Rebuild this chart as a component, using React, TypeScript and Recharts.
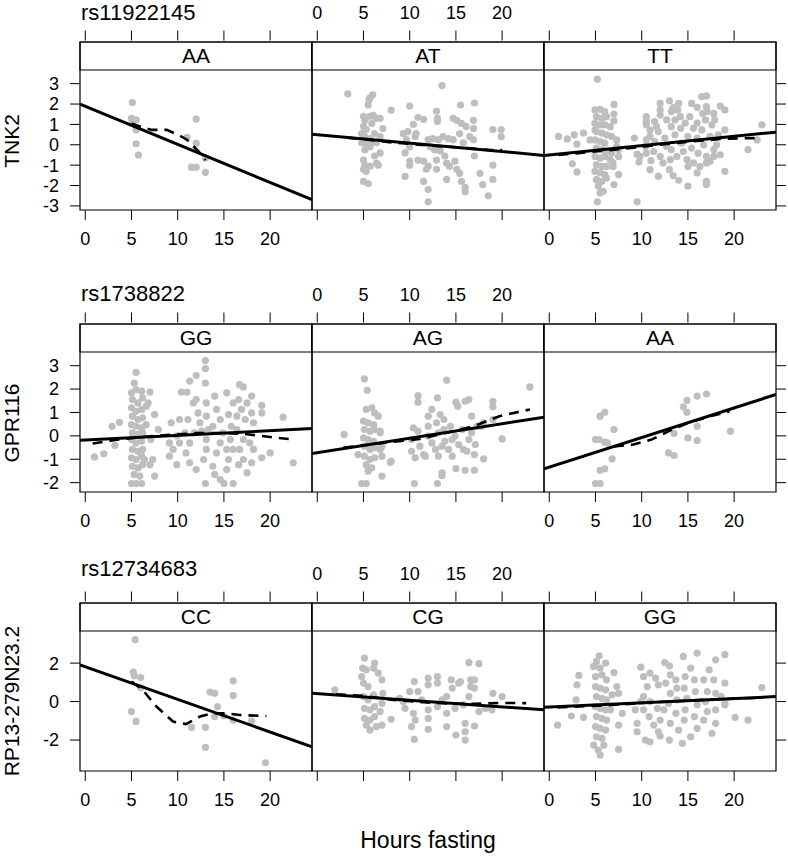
import { ReferenceArea, Scatter, ScatterChart, XAxis, YAxis } from "recharts";

type Pt = [number, number];

const hourTicks = [0, 5, 10, 15, 20];
const hourRange: Pt = [-0.57, 24.53];
const snps = ["rs11922145", "rs1738822", "rs12734683"];
const genes = ["TNK2", "GPR116", "RP13-279N23.2"];
const genotypes = [
  ["AA", "AT", "TT"],
  ["GG", "AG", "AA"],
  ["CC", "CG", "GG"],
];
const exprTicks = [
  [-3, -2, -1, 0, 1, 2, 3],
  [-2, -1, 0, 1, 2, 3],
  [-2, 0, 2],
];
const exprRange: Pt[] = [
  [-3.2, 3.67],
  [-2.4, 3.585],
  [-3.61, 3.67],
];

// TNK2 ~ rs11922145
const tnk2AA: Pt[] = [
  [5.1, 2.07], [5.0, 1.3], [5.5, 1.22], [5.1, 1.14], [5.5, 0.73], [5.5, 0.05], [5.75, -0.5],
  [12.0, 1.26], [11.0, 0.36], [12.0, 0.08], [11.5, -1.1], [12.0, -1.1], [13.0, -0.65], [13.0, -1.35],
];
const tnk2AAFit: Pt[] = [[-0.57, 1.99], [24.53, -2.69]];
const tnk2AALoess: Pt[] = [[5.0, 1.05], [6.2, 0.85], [7.2, 0.73], [8.8, 0.73], [10, 0.5], [11, 0.25], [12.3, -0.35], [13, -0.75]];

const tnk2AT: Pt[] = [
  [3.3, 2.5], [13.5, 2.9], [6.0, 2.45], [5.7, 2.3], [5.5, 1.95], [5.6, 2.2], [8.0, 1.7], [10.0, 1.9],
  [15.5, 1.95], [17.0, 2.05], [12.9, 1.65], [13.0, 1.3], [13.0, 1.15], [10.9, 1.35], [11.5, 1.25],
  [5.0, 1.4], [5.15, 1.2], [5.7, 1.4], [6.05, 1.45], [6.4, 1.3], [6.8, 1.3], [5.0, 0.9], [5.3, 0.75],
  [5.9, 1.05], [7.1, 0.8], [4.8, 0.55], [5.15, 0.4], [5.5, 0.25], [6.2, 0.55], [6.8, 0.4], [6.4, 0.1],
  [5.7, -0.1], [5.15, -0.25], [6.8, -0.4], [6.2, -0.55], [5.0, -0.75], [5.15, -1.0], [5.7, -1.05],
  [6.4, -0.9], [6.6, -1.0], [5.0, -1.2], [5.3, -1.3], [5.0, -1.8], [5.5, -1.9], [4.8, 0.1], [5.3, 0.0],
  [5.9, 0.1], [5.7, 0.3], [10.4, 1.0], [9.8, 0.65], [9.3, 0.55], [9.65, 0.25], [10.6, 0.4], [10.0, -0.1],
  [9.5, -0.4], [10.0, -0.8], [10.0, -1.0], [9.5, -1.55], [10.9, -0.75], [11.5, -0.8], [12.0, -1.05],
  [11.8, -1.2], [12.0, -2.2], [11.5, -1.8], [12.0, -2.8], [12.5, 0.3], [13.1, 0.25], [13.6, 0.4],
  [14.2, 0.3], [14.7, 0.25], [12.7, -0.25], [13.3, -0.3], [13.8, -0.55], [12.9, -0.75], [14.0, -0.9],
  [14.3, -1.05], [14.9, -0.8], [15.1, -1.2], [12.9, -1.2], [14.0, -1.7], [15.4, -1.4], [15.6, -1.8],
  [16.0, -2.1], [16.0, -2.3], [14.7, 1.3], [15.1, 1.2], [15.6, 1.05], [16.1, 0.9], [16.9, 1.2],
  [16.9, 0.8], [16.5, 0.4], [16.9, 0.25], [15.8, 0.1], [15.4, 0.55], [17.0, -0.55], [17.6, -1.4],
  [17.9, -1.95], [18.5, -2.5], [19.0, -1.7], [19.0, -1.0], [19.0, 0.75], [19.9, 0.75], [19.9, 0.4],
  [12.0, 0.25], [12.2, -0.1], [10.7, 0.55],
];
const tnk2ATFit: Pt[] = [[-0.57, 0.52], [24.53, -0.52]];
const tnk2ATLoess: Pt[] = [[3.3, 0.35], [8, 0.12], [12, -0.03], [15, -0.12], [18.5, -0.25], [20, -0.26]];

const tnk2TT: Pt[] = [
  [1.0, 0.41], [1.95, 0.29], [2.7, 0.49], [3.0, 0.03], [3.7, 0.57], [2.5, -0.93], [3.0, -1.33],
  [5.2, 3.22], [5.2, -2.8], [9.5, -2.8], [7.0, 1.98], [7.0, 1.51], [7.0, 1.17], [7.5, -1.46], [7.0, -1.95],
  [9.2, 0.33], [9.5, -0.46], [9.7, -0.85], [10.5, 1.38], [10.5, 1.17], [10.9, 0.73], [10.5, -0.41],
  [11.0, -0.78], [10.9, -1.22], [11.8, -1.54], [12.0, 2.03], [13.0, 2.16], [12.0, 1.71], [12.0, 1.46],
  [13.4, 1.82], [13.9, 1.71], [13.0, -1.22], [13.4, -1.51], [14.0, -1.74], [15.0, -2.03], [15.4, 2.03],
  [16.0, 1.84], [16.5, 2.36], [17.0, 2.4], [16.6, 1.54], [17.1, 1.63], [18.5, 1.9], [19.0, 1.71],
  [17.0, -1.79], [17.0, -1.95], [19.0, -1.3], [21.5, -0.24], [22.5, 0.24], [23.0, 0.98],
  [15.0, -1.06], [16.0, -1.38], [16.3, -1.06], [17.0, -0.89], [17.8, -0.57], [17.4, -0.81],
  [4.95, 1.71], [5.5, 1.74], [6.0, 1.63], [5.1, 1.38], [5.7, 1.3], [6.2, 1.38], [4.95, 1.06], [5.5, 0.98],
  [6.0, 0.98], [6.6, 0.89], [5.1, 0.65], [5.7, 0.57], [6.2, 0.49], [6.75, 0.41], [7.3, 0.24], [4.95, 0.24],
  [5.5, 0.16], [6.0, 0.08], [4.4, 0.24], [5.1, -0.16], [5.7, -0.24], [6.2, -0.33], [6.75, -0.41],
  [7.5, -0.24], [4.95, -0.57], [5.5, -0.65], [6.0, -0.57], [6.6, -0.73], [5.1, -0.98], [5.7, -1.06],
  [6.2, -1.06], [6.9, -1.06], [4.95, -1.3], [5.5, -1.38], [6.0, -1.46], [5.1, -1.71], [5.7, -1.79],
  [6.2, -1.63], [5.3, -2.03], [5.85, -2.28], [5.5, -2.36], [4.95, 0.73], [7.3, -0.08], [7.5, -0.57],
  [6.9, -0.89], [10.5, 0.98], [10.9, 0.41], [11.4, 0.16], [11.4, 1.14], [11.8, 0.65], [12.5, 0.33],
  [12.7, 1.22], [12.7, -0.08], [13.2, 0.89], [13.2, -0.24], [13.6, 1.22], [13.6, 0.49], [13.8, -0.57],
  [14.2, 1.38], [14.2, 0.81], [14.3, 0.08], [14.5, -0.33], [14.7, 1.06], [14.9, -0.73], [15.0, 0.41],
  [15.2, 1.38], [15.4, -0.16], [15.6, 0.81], [16.0, 1.06], [16.0, 0.33], [16.1, -0.41], [16.5, 0.73],
  [16.7, 0.0], [16.9, 1.22], [17.0, -0.57], [17.4, 0.41], [17.6, 0.98], [17.8, -0.24], [17.9, 1.22],
  [18.1, 0.0], [18.5, -0.49], [10.4, -0.08], [10.5, 0.24], [9.8, -0.57], [11.3, -0.33], [12.0, -0.57],
  [12.3, -0.89], [13.1, -0.73], [13.2, 1.63], [11.6, 0.89], [14.0, 2.03], [15.6, -0.89], [17.0, 1.87],
  [17.8, 1.54], [19.0, 0.73], [18.3, 0.49],
];
const tnk2TTFit: Pt[] = [[-0.57, -0.52], [24.53, 0.62]];
const tnk2TTLoess: Pt[] = [[1, -0.5], [5, -0.33], [10, -0.1], [15, 0.15], [19, 0.3], [22.5, 0.33]];

// GPR116 ~ rs1738822
const gpr116GG: Pt[] = [
  [1.0, -0.9], [2.0, -0.77], [2.9, 0.41], [3.7, 0.58], [3.2, -0.41], [5.5, 2.72], [13.0, 3.22], [13.0, 2.88],
  [12.0, 2.58], [13.0, 2.26], [11.3, 2.34], [10.4, 1.87], [11.0, 1.87], [16.7, 2.19], [17.1, 2.09],
  [7.0, 1.87], [6.8, 1.41], [7.5, 0.91], [7.9, 0.27], [7.1, -0.16], [7.3, -1.01], [7.5, -1.72], [7.0, -1.23],
  [9.3, 0.56], [9.1, -0.87], [9.9, -1.23], [9.5, -0.58], [21.4, 0.8], [22.5, -1.15], [20.0, -0.73],
  [19.1, -0.94], [19.1, 1.3], [19.1, 0.98], [18.0, 1.7], [13.0, -2.04], [15.0, -2.04], [16.0, -2.04],
  [5.0, -2.04], [5.5, -2.04], [6.1, -2.04], [11.7, 1.41], [12.0, 1.55], [12.2, 0.98], [12.4, 0.56],
  [11.8, 0.13], [11.3, -0.3], [10.9, -0.73], [11.3, -1.15], [12.0, -1.44], [12.8, -1.01], [13.1, -0.58],
  [13.1, -0.16], [13.3, 0.27], [13.1, 0.84], [13.1, 1.41], [14.0, 1.7], [14.2, 1.13], [14.6, 0.7],
  [13.8, 0.41], [14.9, 0.13], [14.6, -0.3], [14.2, -0.73], [13.8, -1.3], [14.0, -1.65], [14.6, -1.87],
  [15.3, -1.44], [15.5, -1.01], [15.3, -0.58], [15.7, -0.16], [15.8, 0.41], [15.5, 0.91], [16.0, 1.41],
  [15.3, 1.84], [16.6, 1.55], [16.9, 1.13], [17.3, 0.7], [16.4, 0.27], [17.1, -0.16], [16.7, -0.58],
  [17.1, -1.01], [16.6, -1.23], [17.5, -1.58], [18.0, -1.15], [18.2, -0.58], [17.8, -0.3], [18.2, 0.56],
  [18.0, 0.98], [17.5, 1.41], [16.4, 0.84], [10.2, 0.7], [9.9, 0.0], [10.8, 0.13], [9.1, -0.3],
  [11.1, 0.7], [12.6, 0.2], [10.2, -0.3], [16.0, -0.58], [5.0, 1.84], [5.5, 1.98], [6.1, 1.91],
  [5.1, 1.55], [5.7, 1.41], [6.2, 1.62], [5.0, 1.2], [5.5, 1.05], [6.1, 1.13], [5.1, 0.84], [5.7, 0.7],
  [6.2, 0.77], [5.0, 0.48], [5.5, 0.41], [6.1, 0.34], [5.1, 0.13], [5.7, 0.06], [6.2, 0.13], [5.0, -0.16],
  [5.5, -0.3], [6.1, -0.23], [5.1, -0.58], [5.7, -0.66], [6.2, -0.58], [5.0, -0.94], [5.5, -1.01],
  [6.1, -0.87], [5.1, -1.3], [5.7, -1.37], [6.2, -1.23], [5.3, -1.65], [5.9, -1.72], [6.4, -1.01],
  [6.6, 0.48], [6.6, 1.27], [5.3, 2.26],
];
const gpr116GGFit: Pt[] = [[-0.57, -0.19], [24.53, 0.31]];
const gpr116GGLoess: Pt[] = [[0.8, -0.33], [3.3, -0.17], [7, -0.02], [12, 0.12], [15, 0.12], [17.5, 0.07], [20, -0.05], [22.7, -0.16]];

const gpr116AG: Pt[] = [
  [5.1, 2.44], [5.4, 1.95], [14.0, 2.38], [23.0, 2.09], [2.9, 0.06], [10.9, 1.72], [10.9, 1.44], [13.0, 1.62],
  [15.0, 1.44], [15.2, 1.27], [16.0, 1.48], [16.4, 1.55], [19.0, 1.48], [19.0, 1.24], [12.0, 0.84],
  [12.4, 1.13], [13.3, 0.91], [13.7, 0.7], [16.7, 0.84], [19.0, 0.7], [20.0, -0.13], [18.0, 0.56],
  [17.8, 0.41], [10.2, -0.66], [10.6, -0.94], [11.5, -0.8], [10.5, -2.04], [13.0, -2.04], [13.5, -1.58],
  [13.5, -1.7], [15.0, -1.4], [16.0, -1.47], [17.0, -1.47], [18.0, -0.98], [16.2, -0.66], [17.0, -0.8],
  [7.0, -1.72], [7.9, -1.13], [6.8, -0.58], [7.0, -0.87], [4.8, -2.04], [5.3, -2.04], [5.3, 1.13],
  [5.9, 1.2], [6.2, 0.98], [6.6, 0.84], [5.0, 0.63], [5.5, 0.56], [6.1, 0.48], [5.1, 0.27], [5.7, 0.2],
  [6.2, 0.27], [6.8, 0.13], [5.0, -0.09], [5.5, -0.16], [6.1, -0.23], [4.4, -0.8], [5.1, -0.44],
  [5.7, -0.58], [6.2, -0.51], [7.0, -0.44], [5.1, -0.87], [5.7, -1.01], [6.2, -0.94], [5.3, -1.23],
  [5.9, -1.37], [5.5, -1.51], [6.8, 0.2], [8.0, -1.08], [10.4, 0.34], [10.9, 0.2], [10.2, -0.16],
  [11.1, -0.44], [12.0, -0.01], [12.4, -0.3], [12.9, 0.56], [13.1, 0.13], [12.8, -0.58], [13.1, -0.87],
  [13.7, 0.27], [13.8, -0.23], [14.2, -0.58], [14.6, -0.87], [14.4, 0.41], [14.9, -0.01], [15.3, -0.37],
  [15.7, 0.27], [15.8, -0.58], [16.4, -0.16], [16.7, 0.13], [17.1, -0.37], [17.3, 0.41], [12.0, 0.41],
  [13.5, -0.44], [11.7, -0.87], [14.6, -0.16],
];
const gpr116AGFit: Pt[] = [[-0.57, -0.75], [24.53, 0.8]];
const gpr116AGLoess: Pt[] = [[2.8, -0.51], [7.1, -0.3], [11.1, -0.13], [14, 0.13], [16.9, 0.41], [19.7, 0.84], [23, 1.13]];

const gpr116AA: Pt[] = [
  [5.5, 0.84], [6.0, 1.01], [7.0, 0.27], [5.0, -0.16], [5.4, -0.16], [6.0, -0.27], [6.3, -0.3], [6.8, -0.98],
  [5.5, -1.47], [6.0, -1.41], [5.0, -2.04], [5.5, -2.04], [12.9, -0.73], [13.5, -0.84], [13.5, 0.1],
  [14.5, 1.24], [14.9, 1.52], [14.9, 1.01], [16.0, 1.7], [17.0, 1.79], [16.0, 0.41], [15.0, -0.09],
  [16.0, -0.2], [19.6, 0.2],
];
const gpr116AAFit: Pt[] = [[-0.57, -1.41], [24.53, 1.77]];
const gpr116AALoess: Pt[] = [[7.0, -0.45], [9, -0.38], [11, -0.17], [13.3, 0.27], [15, 0.55], [17.5, 0.85], [19.5, 1.05]];

// RP13-279N23.2 ~ rs12734683
const rp13CC: Pt[] = [
  [5.4, 3.22], [5.2, 1.53], [5.3, 1.34], [6.0, 1.25], [6.0, 0.73], [5.0, -0.52], [5.5, -1.03], [11.5, -1.34],
  [13.0, -1.34], [13.0, -2.38], [13.5, 0.49], [14.0, 0.43], [14.3, -0.26], [14.0, -0.78], [16.0, 1.08],
  [16.0, 0.31], [15.0, -0.75], [16.0, -0.96], [18.0, -1.01], [19.5, -3.18],
];
const rp13CCFit: Pt[] = [[-0.57, 1.91], [24.53, -2.35]];
const rp13CCLoess: Pt[] = [[5.0, 1.04], [6.2, 0.61], [7.7, -0.26], [9.5, -1.04], [10.9, -1.17], [12.4, -0.78], [13.8, -0.61], [15.3, -0.61], [16.7, -0.7], [19.6, -0.75]];

const rp13CG: Pt[] = [
  [1.9, 0.61], [5.1, 2.26], [6.2, 2.0], [4.9, 1.74], [5.3, 1.65], [6.1, 1.74], [6.6, 1.48], [7.0, 1.13],
  [7.1, 0.43], [5.7, -1.48], [6.4, -1.3], [7.0, -1.22], [8.0, -0.92], [5.0, 0.96], [5.5, 0.78], [5.0, 0.26],
  [5.5, 0.09], [6.1, 0.35], [5.1, -0.35], [5.7, -0.43], [6.2, -0.26], [6.8, -0.52], [5.1, -0.87],
  [5.7, -0.96], [6.2, -0.78], [5.3, -1.22], [7.0, -0.09], [4.8, 1.3], [9.3, 0.0], [10.5, 1.04],
  [10.0, 0.52], [10.9, 0.52], [10.4, -0.61], [10.6, -0.96], [10.2, -1.3], [10.5, -1.97], [12.0, 1.22],
  [12.0, 0.87], [12.0, -0.43], [12.0, -0.87], [12.0, -1.44], [13.0, 1.3], [13.0, 0.96], [13.0, -0.26],
  [14.0, -1.3], [14.0, -0.61], [14.0, 0.26], [14.5, 1.13], [14.6, 0.7], [15.3, 0.96], [15.5, 1.04],
  [15.0, -1.74], [16.0, -1.13], [16.0, -1.57], [16.0, -2.0], [16.4, 2.03], [17.5, 1.97], [16.6, 1.13],
  [17.0, 1.13], [16.6, 0.78], [17.0, 0.7], [16.4, 0.26], [17.0, -1.27], [19.0, 0.43], [20.0, 0.26],
  [18.9, -0.43], [17.5, -0.52], [18.2, -0.35], [14.9, -0.35], [15.8, -0.17], [13.5, 0.09], [11.3, 0.09],
  [8.9, 0.17], [9.5, -0.35],
];
const rp13CGFit: Pt[] = [[-0.57, 0.43], [24.53, -0.43]];
const rp13CGLoess: Pt[] = [[2.0, 0.38], [5, 0.3], [8, 0.1], [11, -0.02], [14, -0.1], [17, -0.12], [20, -0.07], [22.6, -0.08]];

const rp13GG: Pt[] = [
  [0.9, -1.22], [2.4, -0.75], [3.7, -0.82], [2.9, 0.09], [3.0, 0.87], [3.2, 1.36], [5.4, 2.38], [5.1, 2.09],
  [5.5, -2.78], [5.3, -2.52], [7.5, -2.49], [7.0, 1.51], [7.3, 0.78], [7.5, 0.43], [7.9, -0.61],
  [7.5, -1.22], [9.9, 1.79], [9.5, -1.13], [9.5, -1.57], [10.4, -2.0], [10.9, -2.09], [12.0, -1.79],
  [13.0, -2.0], [14.4, -2.17], [12.5, 2.03], [13.0, 1.86], [14.5, 2.35], [16.0, 2.52], [18.0, 2.17],
  [19.0, 2.44], [20.1, -0.82], [21.5, -0.96], [23.0, 0.73], [17.6, -1.65], [19.0, -0.17], [19.0, 0.96],
  [4.8, 1.83], [5.5, 1.74], [6.1, 2.0], [5.0, 1.3], [5.7, 1.39], [6.2, 1.13], [5.0, 0.78], [5.5, 0.7],
  [6.1, 0.61], [5.1, 0.26], [5.7, 0.17], [6.2, 0.09], [5.0, -0.26], [5.5, -0.35], [6.1, -0.43],
  [5.1, -0.78], [5.7, -0.87], [6.2, -0.96], [5.0, -1.3], [5.5, -1.39], [6.1, -1.48], [5.1, -1.83],
  [5.7, -1.91], [4.8, -2.26], [5.9, -2.26], [6.6, -0.43], [6.8, 0.35], [10.2, 1.3], [10.9, 1.48],
  [11.5, 1.22], [11.8, 0.87], [10.6, 0.78], [10.2, 0.26], [10.9, 0.0], [11.7, -0.35], [10.2, -0.43],
  [10.8, -0.78], [11.3, -1.22], [12.0, -0.96], [12.4, -0.43], [12.9, -0.09], [13.1, 0.43], [12.6, 0.96],
  [13.1, 1.39], [13.7, 1.13], [13.8, 0.7], [13.8, 0.09], [13.7, -0.61], [13.1, -1.13], [14.0, -1.48],
  [14.6, -0.96], [14.7, -0.43], [14.9, 0.17], [14.6, 0.7], [14.7, 1.3], [15.3, 1.74], [15.7, 1.13],
  [15.8, 0.52], [16.0, -0.17], [15.7, -0.78], [16.0, -1.39], [16.7, -0.96], [17.1, -0.52], [16.9, 0.0],
  [17.1, 0.52], [16.7, 1.13], [17.3, 1.65], [17.8, 1.13], [18.0, 0.43], [18.0, -0.43], [18.0, -1.13],
  [18.6, 0.26], [19.0, -0.09], [9.3, -0.43], [9.9, 0.0], [11.8, -1.57], [15.3, -1.83],
];
const rp13GGFit: Pt[] = [[-0.57, -0.3], [24.53, 0.26]];
const rp13GGLoess: Pt[] = [[0.9, -0.3], [6, -0.2], [12, -0.02], [18, 0.12], [23, 0.2]];

const panelData = [
  [
    { pts: tnk2AA, fit: tnk2AAFit, loess: tnk2AALoess },
    { pts: tnk2AT, fit: tnk2ATFit, loess: tnk2ATLoess },
    { pts: tnk2TT, fit: tnk2TTFit, loess: tnk2TTLoess },
  ],
  [
    { pts: gpr116GG, fit: gpr116GGFit, loess: gpr116GGLoess },
    { pts: gpr116AG, fit: gpr116AGFit, loess: gpr116AGLoess },
    { pts: gpr116AA, fit: gpr116AAFit, loess: gpr116AALoess },
  ],
  [
    { pts: rp13CC, fit: rp13CCFit, loess: rp13CCLoess },
    { pts: rp13CG, fit: rp13CGFit, loess: rp13CGLoess },
    { pts: rp13GG, fit: rp13GGFit, loess: rp13GGLoess },
  ],
];

// layout (page pixels)
const COL_X = [80, 312, 544];
const ROW_Y = [42, 324, 603];
const PANEL_W = 232;
const STRIP_H = 28;
const PLOT_H = 140;
const TOP_H = 40;
const BOTTOM_H = 48;
const Y_LABEL_W = 77;
const PAD = 3;
const FONT = "'Liberation Sans', Arial, Helvetica, sans-serif";

const toXY = (a: Pt[]) => a.map(([x, y]) => ({ x, y }));
const blank = () => "";
const dot = (p: any) => <circle cx={p.cx} cy={p.cy} r={3.6} fill="#bebebe" />;
const noDot = () => <g />;

const Panel = ({ row, col }: { row: number; col: number }) => {
  const { pts, fit, loess } = panelData[row][col];
  const [lo, hi] = exprRange[row];
  const top = hi + ((hi - lo) * STRIP_H) / PLOT_H;
  const leftW = col === 0 ? Y_LABEL_W : 0;
  const rightW = col === 2 ? 10 : 0;
  const rightPad = col === 2 ? 1 : PAD;
  const width = PAD + leftW + PANEL_W + rightW + rightPad;
  const height = TOP_H + STRIP_H + PLOT_H + BOTTOM_H;
  const tickFont = { fill: "#000", fontSize: 18 };

  return (
    <div style={{ position: "absolute", left: COL_X[col] - PAD - leftW, top: ROW_Y[row] - TOP_H }}>
      <ScatterChart width={width} height={height} margin={{ top: 0, bottom: 0, left: PAD, right: rightPad }}>
        <XAxis
          xAxisId="b"
          type="number"
          dataKey="x"
          domain={hourRange}
          allowDataOverflow
          ticks={hourTicks}
          interval={0}
          orientation="bottom"
          height={BOTTOM_H}
          axisLine={false}
          tickSize={12.5}
          tickLine={{ stroke: "#000", strokeDasharray: "0 2.5 10 40" }}
          tickMargin={10}
          tick={tickFont}
          tickFormatter={col === 1 ? blank : undefined}
        />
        <XAxis
          xAxisId="t"
          type="number"
          dataKey="x"
          domain={hourRange}
          allowDataOverflow
          ticks={hourTicks}
          interval={0}
          orientation="top"
          height={TOP_H}
          axisLine={false}
          tickSize={11.5}
          tickLine={{ stroke: "#000", strokeDasharray: "10 40" }}
          tickMargin={12}
          tick={tickFont}
          tickFormatter={col === 1 ? undefined : blank}
        />
        <YAxis
          yAxisId="v"
          type="number"
          dataKey="y"
          domain={[lo, top]}
          allowDataOverflow
          ticks={exprTicks[row]}
          interval={0}
          hide={col === 1}
          orientation={col === 2 ? "right" : "left"}
          width={col === 0 ? Y_LABEL_W : col === 2 ? 10 : 0}
          axisLine={false}
          tickSize={10}
          tickLine={{ stroke: "#000" }}
          tickMargin={11}
          tick={tickFont}
          tickFormatter={col === 0 ? undefined : blank}
        />
        <ReferenceArea
          xAxisId="b"
          yAxisId="v"
          x1={hourRange[0]}
          x2={hourRange[1]}
          y1={hi}
          y2={top}
          fill="#fff"
          fillOpacity={1}
          stroke="#000"
          strokeWidth={1.2}
          ifOverflow="visible"
          label={{ value: genotypes[row][col], position: "center", fill: "#000", fontSize: 21 }}
        />
        <Scatter xAxisId="b" yAxisId="v" data={toXY(pts)} shape={dot} isAnimationActive={false} />
        <Scatter
          xAxisId="t"
          yAxisId="v"
          data={toXY(loess)}
          shape={noDot}
          line={{ stroke: "#000", strokeWidth: 2.6, strokeDasharray: "10 7" }}
          isAnimationActive={false}
        />
        <Scatter
          xAxisId="b"
          yAxisId="v"
          data={toXY(fit)}
          shape={noDot}
          line={{ stroke: "#000", strokeWidth: 3 }}
          isAnimationActive={false}
        />
        <ReferenceArea
          xAxisId="b"
          yAxisId="v"
          x1={hourRange[0]}
          x2={hourRange[1]}
          y1={lo}
          y2={top}
          fill="none"
          stroke="#000"
          strokeWidth={1.2}
          ifOverflow="visible"
        />
      </ScatterChart>
    </div>
  );
};

const titleBaseline = [20, 301, 576];
const geneCenter = [141, 423, 701];

export default function App() {
  return (
    <div
      style={{
        position: "absolute",
        left: 0,
        top: 0,
        width: 788,
        height: 857,
        overflow: "hidden",
        background: "#fff",
        fontFamily: FONT,
      }}
    >
      {[0, 1, 2].map((r) => [0, 1, 2].map((c) => <Panel key={`${r}-${c}`} row={r} col={c} />))}
      <svg width={788} height={857} style={{ position: "absolute", left: 0, top: 0, pointerEvents: "none" }}>
        {snps.map((s, i) => (
          <text key={s} x={81} y={titleBaseline[i]} fontSize={22} fill="#000">
            {s}
          </text>
        ))}
        {genes.map((g, i) => (
          <text
            key={g}
            x={19}
            y={geneCenter[i]}
            fontSize={21}
            fill="#000"
            textAnchor="middle"
            transform={`rotate(-90 19 ${geneCenter[i]})`}
          >
            {g}
          </text>
        ))}
        <text x={428} y={848} fontSize={23} fill="#000" textAnchor="middle">
          Hours fasting
        </text>
      </svg>
    </div>
  );
}
